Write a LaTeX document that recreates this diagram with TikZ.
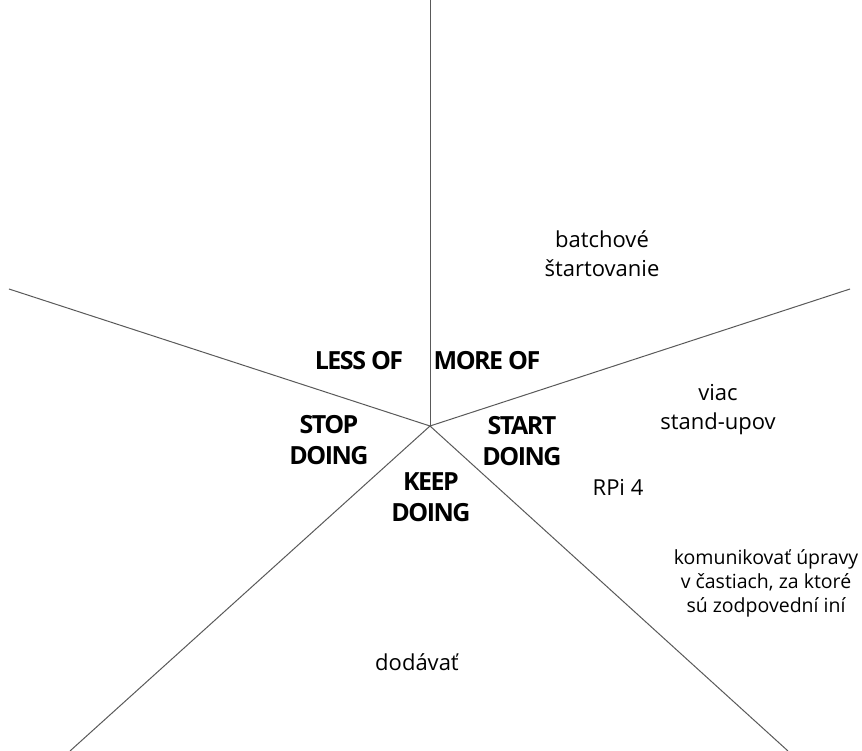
\documentclass[tikz,border=0pt]{standalone}
\usepackage{fontspec}
\setmainfont{Open Sans}
\newfontfamily\headfont{Open Sans}[LetterSpace=-6]
\usetikzlibrary{positioning}

\begin{document}
\begin{tikzpicture}[x=1pt, y=-1pt, semithick, draw=black!75]
  \tikzstyle{head}=[font=\headfont\bfseries\fontsize{25}{31}\selectfont, align=center, inner sep=0pt]
  \tikzstyle{note}=[font=\fontsize{22}{29}\selectfont, align=center, inner sep=0pt]
  \tikzstyle{small}=[font=\fontsize{19.5}{24}\selectfont, align=center, inner sep=0pt]

  \useasboundingbox (0,0) rectangle (862,751);

  \coordinate (C)  at (430,426);
  \coordinate (T)  at (430,0);
  \coordinate (L)  at (9,289);
  \coordinate (R)  at (850,289);
  \coordinate (BL) at (70,751);
  \coordinate (BR) at (788,751);

  \draw[black!65, line width=1pt] (C) -- (T);
  \draw[black!65, line width=1pt] (C) -- (L);
  \draw[black!65, line width=1pt] (C) -- (R);
  \draw[black!65, line width=1pt] (C) -- (BL);
  \draw[black!65, line width=1pt] (C) -- (BR);

  \node[head] (less)  at (359,361) {LESS OF};
  \node[head] (more)  at (487,361) {MORE OF};
  \node[head] (stop)  at (329,440) {STOP\\DOING};
  \node[head] (start) at (522,441) {START\\DOING};
  \node[head] (keep)  at (431,497) {KEEP\\DOING};

  \node[note] (batch)   at (602,254) {batchové\\štartovanie};
  \node[note] (standup) at (718,410) {viac\\stand-upov};
  \node[note] (rpi)     at (618,487) {RPi 4};
  \node[small] (komun)  at (766,583) {komunikovať úpravy\\v častiach, za ktoré\\sú zodpovední iní};
  \node[note] (dodavat) at (417,662) {dodávať};
\end{tikzpicture}
\end{document}
